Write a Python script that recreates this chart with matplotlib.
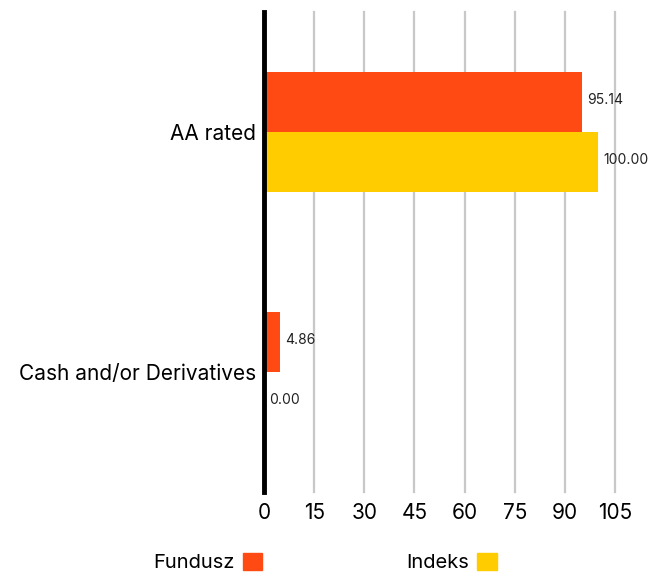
import matplotlib.pyplot as plt
import numpy as np
from matplotlib.patches import Patch

categories = ["AA rated", "Cash and/or Derivatives"]
fundusz = [95.14, 4.86]
indeks = [100.00, 0.00]
series_names = ["Fundusz", "Indeks"]
xticks = [0, 15, 30, 45, 60, 75, 90, 105]

col_f = "#ff4a14"
col_i = "#ffcc00"

plt.rcParams['font.family'] = ['Inter', 'DejaVu Sans']

fig = plt.figure(figsize=(6.67, 5.76), dpi=100)
ax = fig.add_axes([264/667, 1 - 492/576, 351/667, 480/576])

y = np.arange(len(categories))
h = 0.25
ax.barh(y - h/2, fundusz, height=h, color=col_f, zorder=3)
ax.barh(y + h/2, indeks, height=h, color=col_i, zorder=3)

for yy, v in zip(y - h/2, fundusz):
    ax.text(v + 1.5, yy - 0.01, f"{v:.2f}", va="center", ha="left", fontsize=10, color="#222222")
for yy, v in zip(y + h/2, indeks):
    ax.text(v + 1.5, yy - 0.01, f"{v:.2f}", va="center", ha="left", fontsize=10, color="#222222")

ax.set_xlim(0, 105)
ax.set_ylim(1.5, -0.5)
ax.set_xticks(xticks)
ax.set_yticks(y)
ax.set_yticklabels(categories)
ax.tick_params(axis="x", length=0, labelsize=15, pad=8)
ax.tick_params(axis="y", length=0, labelsize=15, pad=6)
ax.xaxis.grid(True, color="#c8c8c8", lw=1.6, clip_on=False, zorder=0)
ax.set_axisbelow(True)
for s in ["top", "right", "bottom"]:
    ax.spines[s].set_visible(False)
ax.spines["left"].set_linewidth(3.5)
ax.spines["left"].set_color("black")
ax.spines["left"].set_zorder(5)

handles = [Patch(color=col_f), Patch(color=col_i)]
fig.legend(handles, series_names, loc="lower center", bbox_to_anchor=(0.487, -0.025),
           ncol=2, frameon=False, markerfirst=False, fontsize=14.5,
           handlelength=0.95, handleheight=0.95, columnspacing=7.2, handletextpad=0.4)

fig.savefig("out.png", dpi=100)
